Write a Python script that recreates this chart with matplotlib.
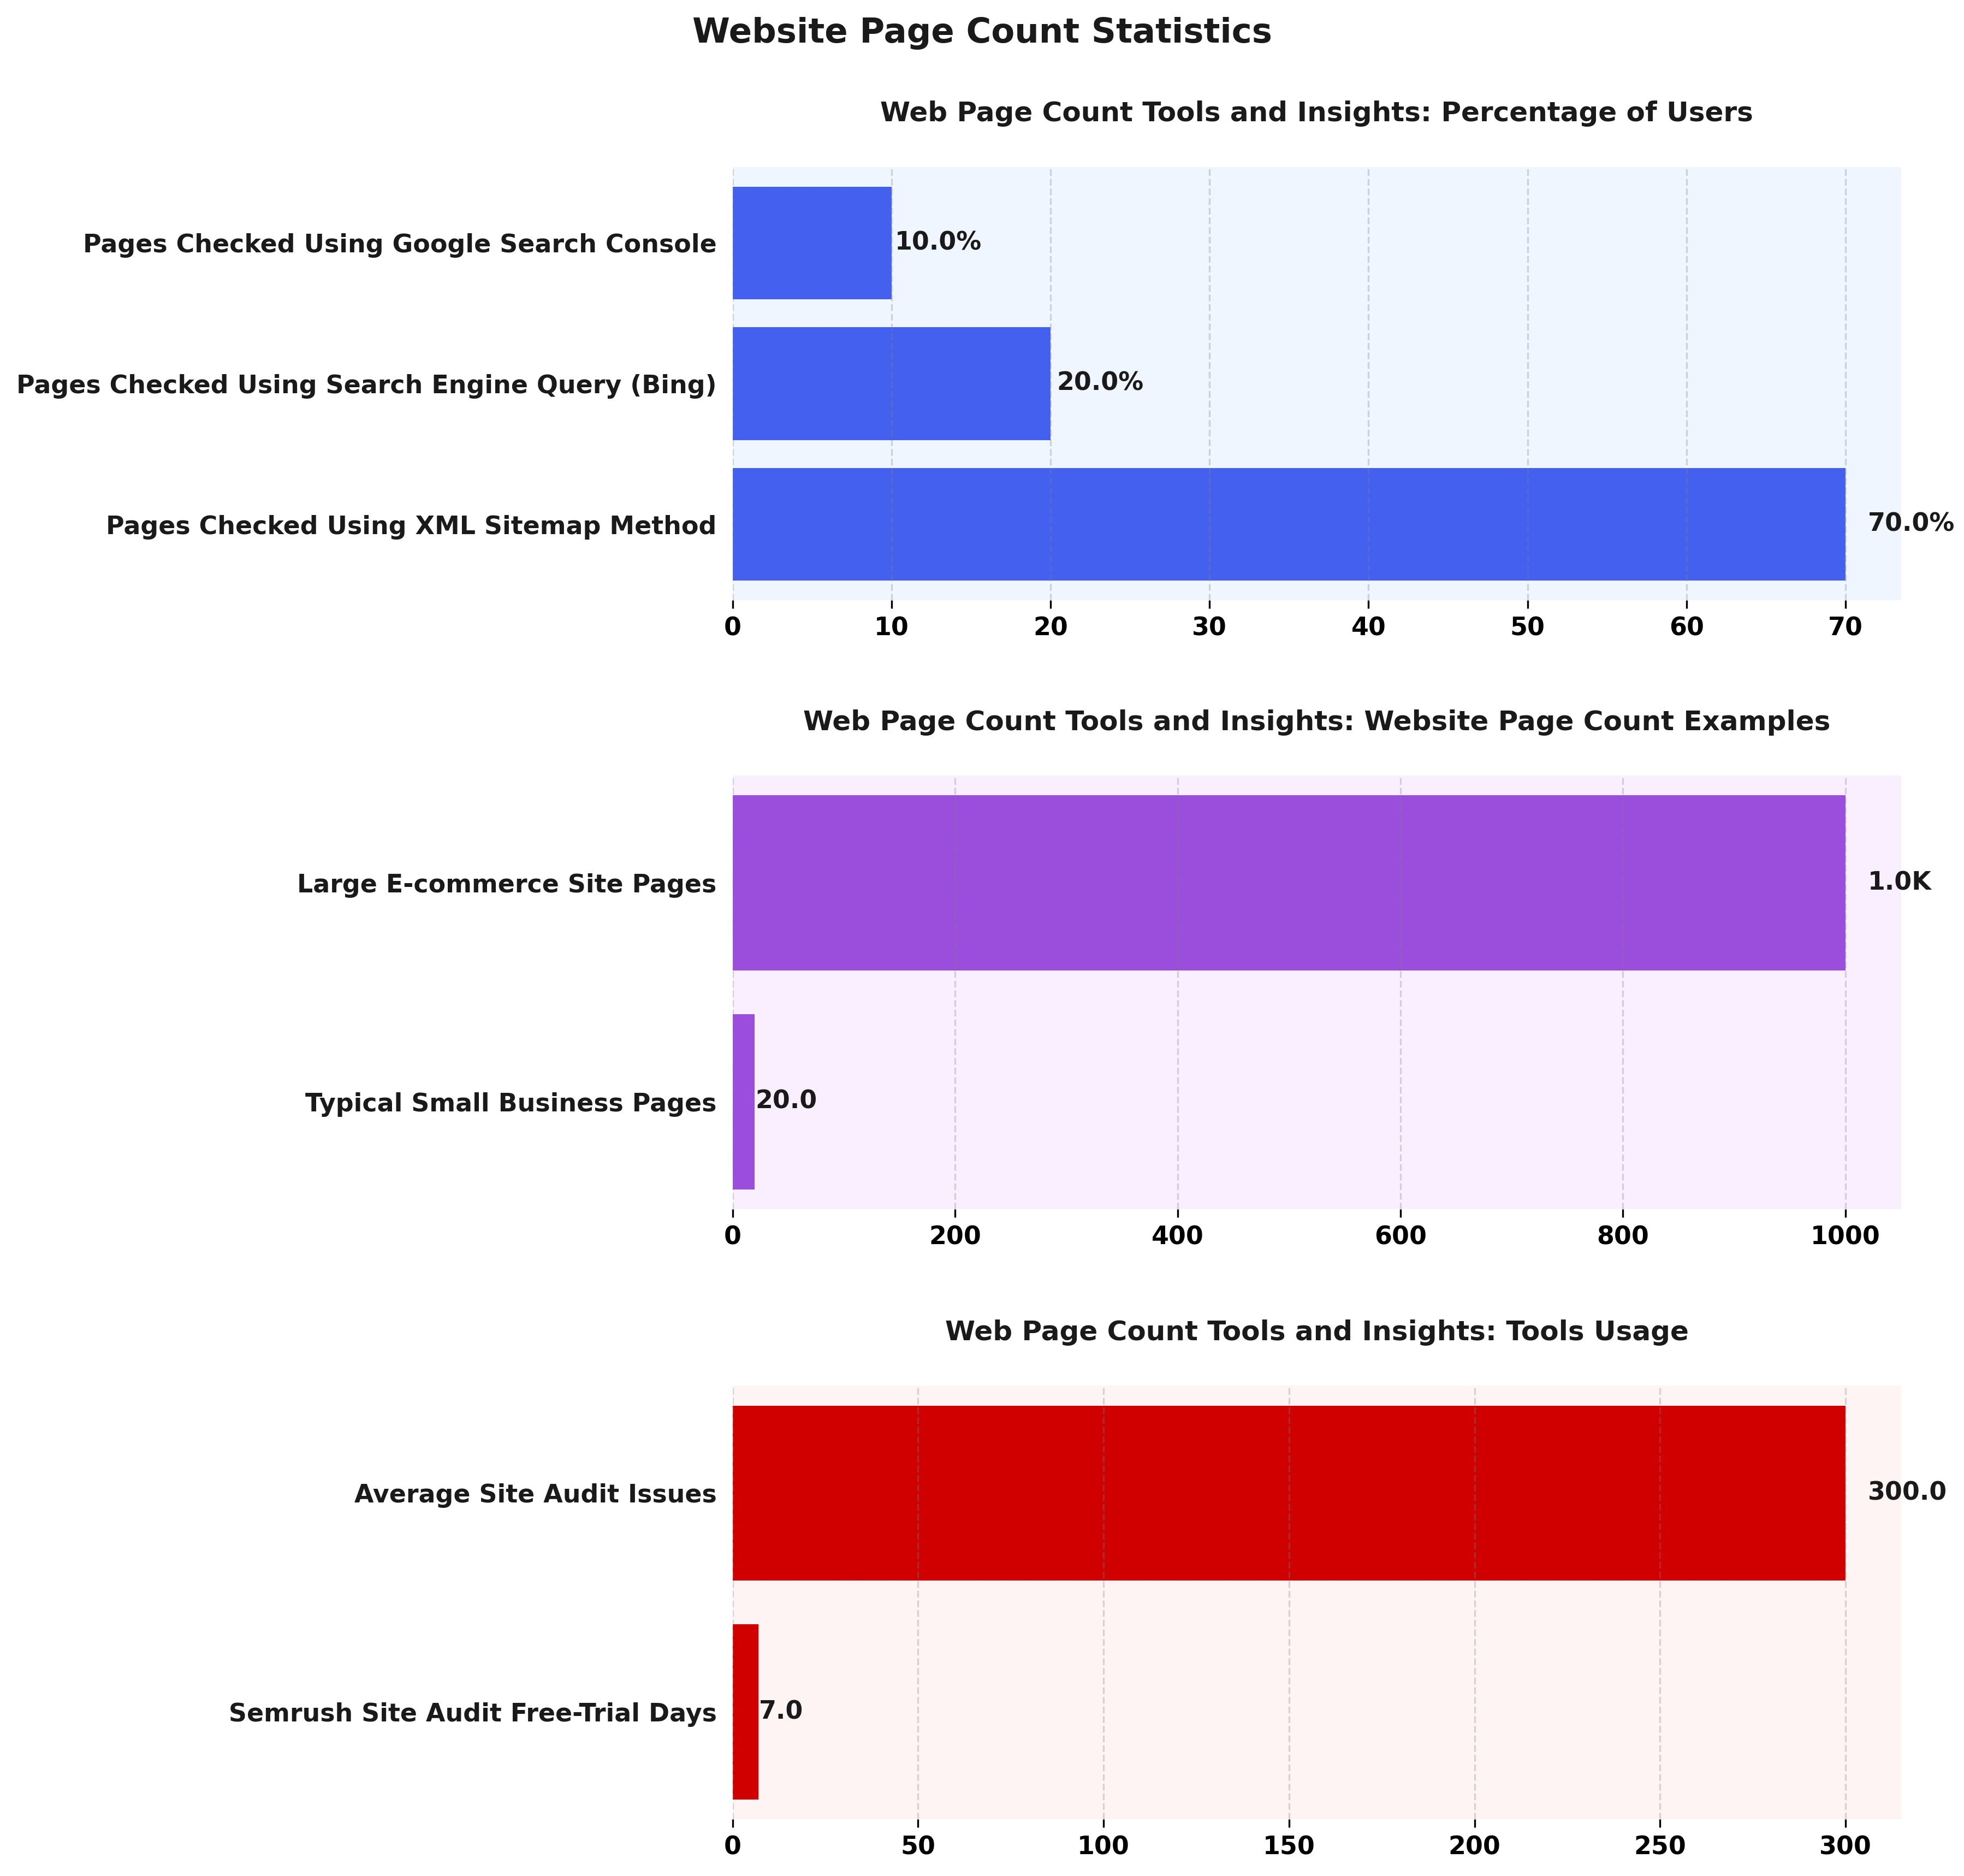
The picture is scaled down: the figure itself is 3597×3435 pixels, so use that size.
import matplotlib
matplotlib.use("Agg")
import matplotlib.pyplot as plt

# data
pct_labels = ["Pages Checked Using XML Sitemap Method",
              "Pages Checked Using Search Engine Query (Bing)",
              "Pages Checked Using Google Search Console"]
pct_values = [70, 20, 10]

count_labels = ["Typical Small Business Pages", "Large E-commerce Site Pages"]
count_values = [20, 1000]

tool_labels = ["Semrush Site Audit Free-Trial Days", "Average Site Audit Issues"]
tool_values = [7, 300]

panels = [
    ("Web Page Count Tools and Insights: Percentage of Users", pct_labels, pct_values, "#4361ee", "#eff6ff", True),
    ("Web Page Count Tools and Insights: Website Page Count Examples", count_labels, count_values, "#9b4ddc", "#faefff", False),
    ("Web Page Count Tools and Insights: Tools Usage", tool_labels, tool_values, "#d00000", "#fff4f4", False),
]


def fmt(v, pct):
    if pct:
        return f"{v:.1f}%"
    if v >= 1000:
        return f"{v/1000:.1f}K"
    return f"{v:.1f}"


fig = plt.figure(figsize=(11.99, 11.45), dpi=300)
bottoms = [0.680, 0.3555, 0.0303]
dark = "#1a1a1a"

for (title, labels, values, color, bg, pct), b in zip(panels, bottoms):
    ax = fig.add_axes([0.373, b, 0.595, 0.231])
    ax.set_facecolor(bg)
    ax.barh(range(len(values)), values, height=0.8, color=color)
    ax.set_yticks(range(len(values)))
    ax.set_yticklabels(labels, fontsize=11, fontweight="bold", color=dark)
    for i, v in enumerate(values):
        ax.text(v + v * 0.02, i, fmt(v, pct), va="center", ha="left",
                fontsize=11, fontweight="bold", color=dark)
    ax.set_title(title, fontsize=12, fontweight="bold", color=dark, pad=20)
    ax.grid(axis="x", linestyle="--", color="gray", alpha=0.3)
    ax.tick_params(axis="y", left=False)
    ax.tick_params(axis="x", labelsize=11)
    for lbl in ax.get_xticklabels():
        lbl.set_fontweight("bold")
    for s in ax.spines.values():
        s.set_visible(False)

fig.suptitle("Website Page Count Statistics", fontsize=15, fontweight="bold",
             color=dark, y=0.991)

fig.savefig("out.png", dpi=300)
